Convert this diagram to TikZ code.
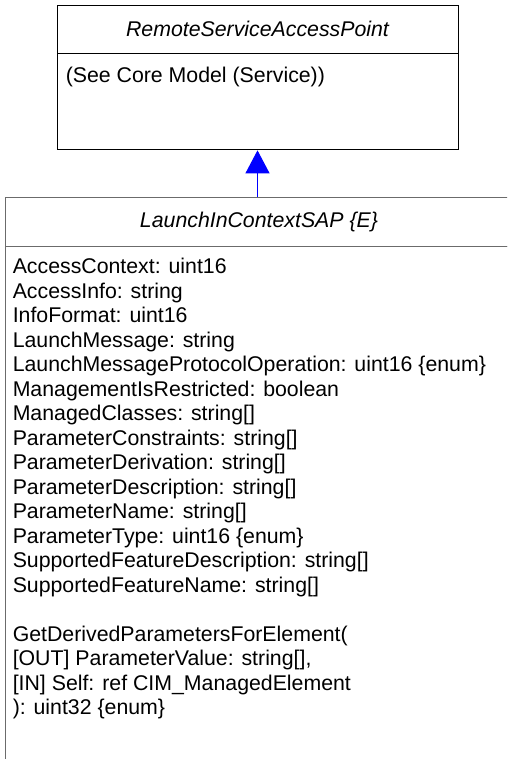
\documentclass[tikz,border=0pt]{standalone}
\usepackage{fontspec}
\setmainfont{Liberation Sans}
\usepackage{tikz}
\usetikzlibrary{arrows.meta, positioning, calc}
\definecolor{umlblack}{HTML}{000000}
\definecolor{umlgray}{HTML}{6B6B6B}
\definecolor{umlblue}{HTML}{0000FF}
\tikzset{
  % UML class name compartment
  clshead/.style={rectangle, draw=#1, line width=0.9pt, inner sep=0pt,
                  font=\fontsize{21.3}{24.5}\selectfont\itshape},
  % UML class body compartment (box only)
  clsbody/.style={rectangle, draw=#1, line width=0.9pt, inner sep=0pt},
  % attribute / method lists
  attrs/.style={align=left, inner sep=0pt,
                font=\fontsize{21.3}{24.5}\selectfont},
  % generalization arrow
  inherit/.style={-{Triangle[width=24pt,length=23pt]}, draw=umlblue,
                  line width=1pt},
}

\begin{document}
\begin{tikzpicture}[x=1pt, y=1pt]
\useasboundingbox (0,0) rectangle (507,-759);
\clip (0,0) rectangle (507,-759);

% ── RemoteServiceAccessPoint ─────────────────────────────────────────────────
\node[clshead=umlblack, minimum width=401pt, minimum height=48pt] (rsap)
  at (257.5,-29) {RemoteServiceAccessPoint};
\node[clsbody=umlblack, minimum width=401pt, minimum height=96pt,
      below=0pt of rsap] (rsapbody) {};
\node[attrs, anchor=base west] (rsapnote)
  at ([shift={(9,-29)}]rsapbody.north west) {(See Core Model (Service))};

% ── LaunchInContextSAP ───────────────────────────────────────────────────────
\node[clshead=umlgray, minimum width=508pt, minimum height=49pt] (lics)
  at (259,-221.5) {LaunchInContextSAP \{E\}};
\node[clsbody=umlgray, minimum width=508pt, minimum height=540pt,
      below=0pt of lics] (licsbody) {};
\node[attrs, anchor=north west] (licsattr)
  at ([shift={(8,-11.5)}]licsbody.north west) {%
  AccessContext: uint16\\
  AccessInfo: string\\
  InfoFormat: uint16\\
  LaunchMessage: string\\
  LaunchMessageProtocolOperation: uint16 \{enum\}\\
  ManagementIsRestricted: boolean\\
  ManagedClasses: string[]\\
  ParameterConstraints: string[]\\
  ParameterDerivation: string[]\\
  ParameterDescription: string[]\\
  ParameterName: string[]\\
  ParameterType: uint16 \{enum\}\\
  SupportedFeatureDescription: string[]\\
  SupportedFeatureName: string[]\\[24.5pt]
  GetDerivedParametersForElement(\\
  {}[OUT] ParameterValue: string[],\\
  {}[IN] Self: ref CIM\_ManagedElement\\
  ): uint32 \{enum\}};

% ── Generalization ───────────────────────────────────────────────────────────
\draw[inherit] (lics.north -| rsapbody.south) -- (rsapbody.south);

\end{tikzpicture}
\end{document}
